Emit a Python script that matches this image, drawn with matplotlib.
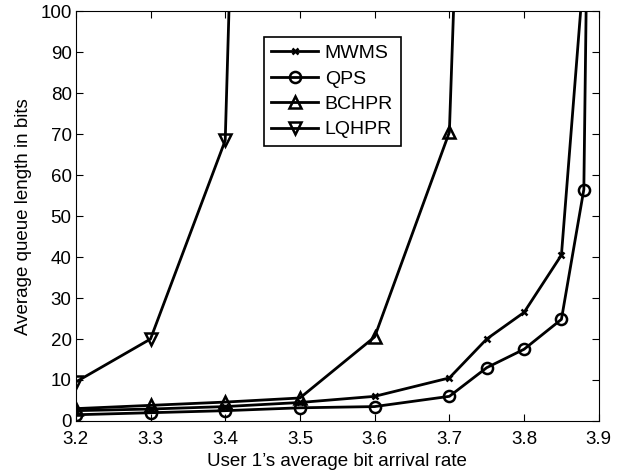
import matplotlib
matplotlib.use('Agg')
import matplotlib.pyplot as plt

plt.rcParams['font.family'] = ['Liberation Sans', 'DejaVu Sans']

# data (last points run off the top of the axes)
x_mwms = [3.2, 3.3, 3.4, 3.5, 3.6, 3.7, 3.75, 3.8, 3.85, 3.88]
y_mwms = [2.5, 2.9, 3.5, 4.5, 6.0, 10.5, 20.0, 26.5, 40.5, 110]

x_qps = [3.2, 3.3, 3.4, 3.5, 3.6, 3.7, 3.75, 3.8, 3.85, 3.88, 3.89]
y_qps = [1.5, 2.0, 2.5, 3.2, 3.5, 6.0, 13.0, 17.5, 24.8, 56.5, 200]

x_bchpr = [3.2, 3.3, 3.4, 3.5, 3.6, 3.7, 3.8]
y_bchpr = [3.0, 3.8, 4.6, 5.6, 20.5, 70.5, 600]

x_lqhpr = [3.2, 3.3, 3.4, 3.5]
y_lqhpr = [9.5, 20.0, 68.5, 700]

fig = plt.figure(figsize=(6.37, 4.74), dpi=100)
ax = fig.add_axes([0.119, 0.112, 0.821, 0.864])

kw = dict(color='k', lw=2, mfc='none', mec='k', mew=1.8)
ax.plot(x_mwms, y_mwms, marker='x', ms=5, label='MWMS', **kw)
ax.plot(x_qps, y_qps, marker='o', ms=8, label='QPS', **kw)
ax.plot(x_bchpr, y_bchpr, marker='^', ms=8, label='BCHPR', **kw)
ax.plot(x_lqhpr, y_lqhpr, marker='v', ms=8, label='LQHPR', **kw)

ax.set_xlim(3.2, 3.9)
ax.set_ylim(0, 100)
ax.set_xticks([3.2, 3.3, 3.4, 3.5, 3.6, 3.7, 3.8, 3.9])
ax.set_yticks(range(0, 101, 10))
ax.tick_params(direction='in', top=True, right=True, labelsize=13.5, length=5)
ax.tick_params(axis='x', pad=7)
ax.tick_params(axis='y', pad=3)
ax.set_xlabel("User 1\u2019s average bit arrival rate", fontsize=13.5, labelpad=4)
ax.set_ylabel("Average queue length in bits", fontsize=13.5, labelpad=6)

leg = ax.legend(loc='upper left', bbox_to_anchor=(0.359, 0.938), fontsize=14,
                fancybox=False, edgecolor='k', framealpha=1,
                handlelength=2.4, borderpad=0.4, labelspacing=0.4,
                handletextpad=0.35, borderaxespad=0)
leg.get_frame().set_linewidth(1.2)

fig.savefig('out.png', dpi=100)
